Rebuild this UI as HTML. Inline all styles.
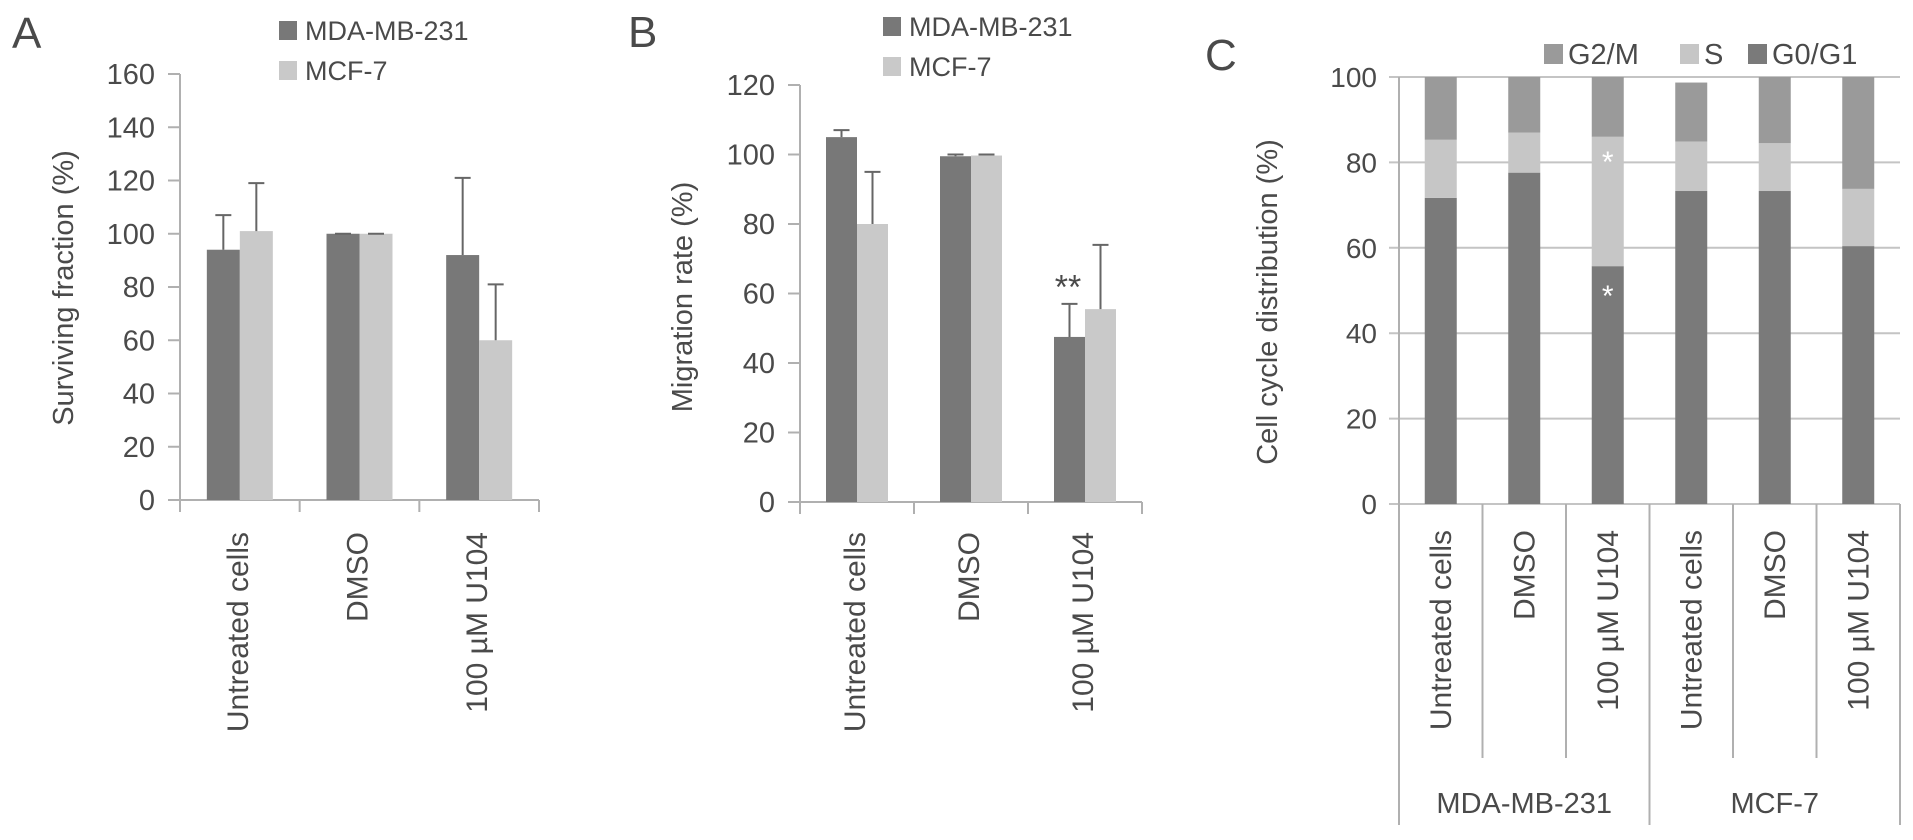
<!DOCTYPE html>
<html><head><meta charset="utf-8"><style>
html,body{margin:0;padding:0;background:#fff;}
svg{display:block;font-family:"Liberation Sans",sans-serif;}
text{fill:#4a4a4a;}
</style></head><body>
<svg id="fig" width="1913" height="840" viewBox="0 0 1913 840" xmlns="http://www.w3.org/2000/svg"></svg>
<script>
// ---- Panel A data ----
const catsAB = ["Untreated cells", "DMSO", "100 \u00B5M U104"];
const aTicks = [0, 20, 40, 60, 80, 100, 120, 140, 160];
const aMDA = [94, 100, 92];
const aMDAerr = [107, 100, 121];
const aMCF = [101, 100, 60];
const aMCFerr = [119, 100, 81];
// ---- Panel B data ----
const bTicks = [0, 20, 40, 60, 80, 100, 120];
const bMDA = [105, 99.5, 47.5];
const bMDAerr = [107, 100, 57];
const bMCF = [80, 99.7, 55.5];
const bMCFerr = [95, 100, 74];
// ---- Panel C data ----
const cCats = ["Untreated cells", "DMSO", "100 \u00B5M U104", "Untreated cells", "DMSO", "100 \u00B5M U104"];
const cGroups = ["MDA-MB-231", "MCF-7"];
const cTicks = [0, 20, 40, 60, 80, 100];
const cG0 = [71.7, 77.6, 55.7, 73.3, 73.3, 60.4];
const cS = [13.6, 9.4, 30.3, 11.6, 11.2, 13.4];
const cG2 = [14.7, 13.0, 14.0, 13.8, 15.5, 26.2];

const DARK = "#787878", LIGHT = "#c9c9c9", AX = "#b0b0b0";
const svg = document.getElementById('fig');
const NS = "http://www.w3.org/2000/svg";
function mk(tag, attrs, parent) {
  const e = document.createElementNS(NS, tag);
  for (const k in attrs) e.setAttribute(k, attrs[k]);
  (parent || svg).appendChild(e);
  return e;
}
function txt(s, attrs, parent) { const t = mk('text', attrs, parent); t.textContent = s; return t; }

function barPanel(o) {
  const g = mk('g', {});
  
  
  const y = v => o.y0 - (v - o.vmin) / (o.vmax - o.vmin) * (o.y0 - o.ytop);
  const cw = (o.xend - o.x0) / catsAB.length;
  const ya = mk('line', {x1: o.x0, y1: o.ytop, x2: o.x0, y2: o.y0, stroke: AX, 'stroke-width': 2}, g);
  
  
  const xa = mk('line', {x1: o.x0 - 12, y1: o.y0, x2: o.xend, y2: o.y0, stroke: AX, 'stroke-width': 2}, g);
  
  
  o.ticks.forEach(t => {
    mk('line', {x1: o.x0 - 12, y1: y(t), x2: o.x0, y2: y(t), stroke: AX, 'stroke-width': 2}, g);
    const tl = txt(String(t), {x: o.x0 - 25, y: y(t) + 10, 'font-size': 29, 'text-anchor': 'end'}, g);
    
    
  });
  for (let i = 0; i <= catsAB.length; i++) {
    mk('line', {x1: o.x0 + i * cw, y1: o.y0, x2: o.x0 + i * cw, y2: o.y0 + 12, stroke: AX, 'stroke-width': 2}, g);
  }
  catsAB.forEach((c, i) => {
    const cx = o.x0 + (i + 0.5) * cw;
    const bw = o.bw;
    [[o.mda, o.mdaErr, DARK, -bw], [o.mcf, o.mcfErr, LIGHT, 0]].forEach(([vals, errs, col, off], s) => {
      const bx = cx + off;
      const r = mk('rect', {x: bx, y: y(vals[i]), width: bw, height: o.y0 - y(vals[i]), fill: col}, g);
      
      
      const ex = bx + bw / 2;
      const el = mk('path', {d: `M${ex},${y(vals[i])}V${y(errs[i])}M${ex - 8},${y(errs[i])}H${ex + 8}`, stroke: '#666', 'stroke-width': 2, fill: 'none'}, g);
      
      
    });
    const lx = cx + 8;
    const cl = txt(c, {x: lx, y: 532, 'font-size': 30, 'text-anchor': 'end', transform: `rotate(-90 ${lx} 532)`}, g);
    
    
  });
  const yt = txt(o.ytitle, {x: o.ytx, y: o.yty, 'font-size': 29, 'text-anchor': 'middle', transform: `rotate(-90 ${o.ytx} ${o.yty})`}, g);
  
  
  const lg = mk('g', {}, g);
  
  
  mk('rect', {x: o.lx, y: o.ly, width: 18, height: 19, fill: DARK}, lg);
  const l1 = txt('MDA-MB-231', {x: o.lx + 26, y: o.ly + 19, 'font-size': 27}, lg);
  
  
  mk('rect', {x: o.lx, y: o.ly + 40, width: 18, height: 19, fill: LIGHT}, lg);
  const l2 = txt('MCF-7', {x: o.lx + 26, y: o.ly + 59, 'font-size': 27}, lg);
  
  
  const pl = txt(o.label, {x: o.px, y: o.py, 'font-size': 44, fill: '#222'}, g);
  
  
  return y;
}

barPanel({name: 'panel-a', x0: 180, xend: 539, y0: 500, ytop: 74, vmin: 0, vmax: 160, ticks: aTicks, bw: 33,
  mda: aMDA, mdaErr: aMDAerr, mcf: aMCF, mcfErr: aMCFerr, ytitle: 'Surviving fraction (%)', ytx: 73, yty: 288,
  lx: 279, ly: 21, label: 'A', px: 12, py: 48});
const yB = barPanel({name: 'panel-b', x0: 800, xend: 1142, y0: 502, ytop: 85, vmin: 0, vmax: 120, ticks: bTicks, bw: 31,
  mda: bMDA, mdaErr: bMDAerr, mcf: bMCF, mcfErr: bMCFerr, ytitle: 'Migration rate (%)', ytx: 692, yty: 297,
  lx: 883, ly: 17, label: 'B', px: 628, py: 47});
const st = txt('**', {x: 1068, y: yB(58.5), 'font-size': 34, 'text-anchor': 'middle', fill: '#777'});



// ---- Panel C ----
(function () {
  const g = mk('g', {});
  
  
  const x0 = 1399, xend = 1900, y0 = 504, ytop = 77;
  const y = v => y0 - v / 100 * (y0 - ytop);
  const cw = (xend - x0) / cCats.length;
  cTicks.forEach(t => {
    const gl = mk('line', {x1: x0 - 10, y1: y(t), x2: xend, y2: y(t), stroke: '#c4c4c4', 'stroke-width': 2}, g);
    
    
    const tl = txt(String(t), {x: 1377, y: y(t) + 10, 'font-size': 28, 'text-anchor': 'end'}, g);
    
    
  });
  mk('line', {x1: x0, y1: ytop, x2: x0, y2: 825, stroke: AX, 'stroke-width': 2}, g);
  for (let i = 1; i <= cCats.length; i++) {
    const full = (i % 3 === 0);
    mk('line', {x1: x0 + i * cw, y1: y0, x2: x0 + i * cw, y2: full ? 825 : 758, stroke: AX, 'stroke-width': 2}, g);
  }
  const bw = 32;
  cCats.forEach((c, i) => {
    const cx = x0 + (i + 0.5) * cw, bx = cx - bw / 2;
    let base = 0;
    [[cG0, '#7a7a7a', 'g0-g1'], [cS, '#c6c6c6', 's'], [cG2, '#9a9a9a', 'g2-m']].forEach(([arr, col, nm]) => {
      const r = mk('rect', {x: bx, y: y(base + arr[i]), width: bw, height: y(base) - y(base + arr[i]), fill: col}, g);
      
      
      base += arr[i];
    });
    const lx = cx + 10;
    const cl = txt(c, {x: lx, y: 530, 'font-size': 30, 'text-anchor': 'end', transform: `rotate(-90 ${lx} 530)`}, g);
    
    
  });
  const ax = x0 + 2.5 * cw;
  [cG0[2] + cS[2] - 5, cG0[2] - 6].forEach(v => {
    const a = txt('*', {x: ax, y: y(v) + 14, 'font-size': 30, 'text-anchor': 'middle', style: 'fill:#fff'}, g);
    
    
  });
  cGroups.forEach((gname, i) => {
    const gx = x0 + (i * 3 + 1.5) * cw;
    const t = txt(gname, {x: gx, y: 813, 'font-size': 29, 'text-anchor': 'middle'}, g);
    
    
  });
  const yt = txt('Cell cycle distribution (%)', {x: 1277, y: 302, 'font-size': 29, 'text-anchor': 'middle', transform: 'rotate(-90 1277 302)'}, g);
  
  
  const lg = mk('g', {}, g);
  
  
  [['G2/M', '#9a9a9a', 1544], ['S', '#c6c6c6', 1680], ['G0/G1', '#7a7a7a', 1748]].forEach(([n, col, lx]) => {
    mk('rect', {x: lx, y: 44, width: 19, height: 20, fill: col}, lg);
    const t = txt(n, {x: lx + 24, y: 64, 'font-size': 29}, lg);
    
    
  });
  const pl = txt('C', {x: 1205, y: 70, 'font-size': 44, fill: '#222'}, g);
  
  
})();
</script>
</body></html>
